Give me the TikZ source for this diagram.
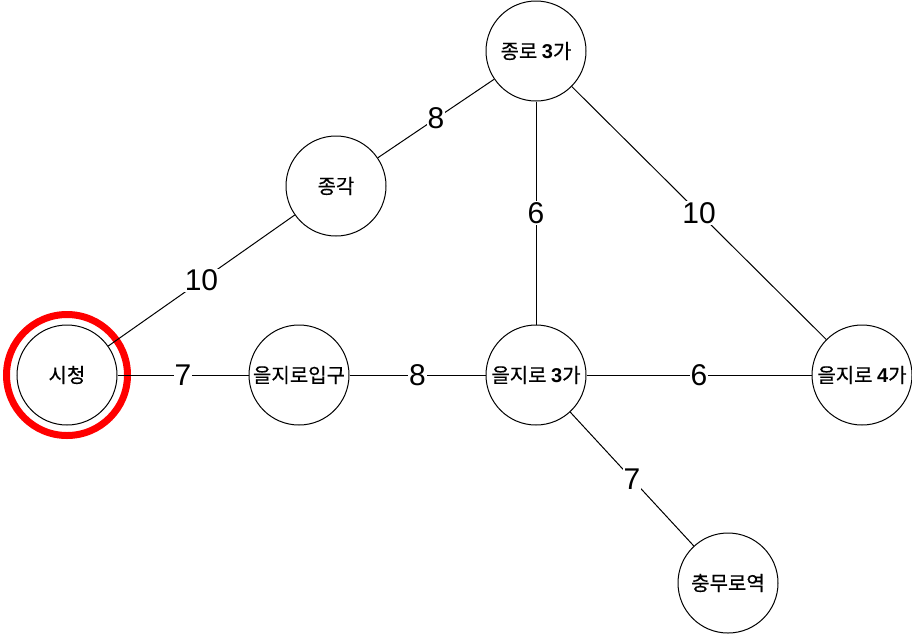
\documentclass[tikz,border=0pt]{standalone}
\usepackage{fontspec}
\setmainfont{Liberation Sans}
\newfontfamily\kr[FakeBold=0.4]{Noto Sans CJK KR}
\newcommand{\dg}[1]{{\fontspec{Liberation Sans}\bfseries #1}}
\begin{document}
\begin{tikzpicture}[x=1pt,y=-1pt,
  station/.style={draw=black, line width=1pt, circle, minimum size=100pt, inner sep=0pt, fill=white, font=\kr\fontsize{20}{20}\selectfont},
  lab/.style={fill=white, inner sep=1pt, font=\fontsize{30}{30}\selectfont},
  edge/.style={draw=black, line width=1pt}]
\useasboundingbox (0,0) rectangle (912,638);
\node[station] (jr3) at (536,51) {종로 \dg{3}가};
\node[station] (jg) at (336,186) {종각};
\node[station] (sc) at (67,375) {시청};
\node[station] (eji) at (299,375) {을지로입구};
\node[station] (ej3) at (536,375) {을지로 \dg{3}가};
\node[station] (ej4) at (862,375) {을지로 \dg{4}가};
\node[station] (cm) at (728,583) {충무로역};
\draw[red, line width=7pt] (sc.center) circle (60.5pt);
\draw[edge] (jg) -- node[lab]{8} (jr3);
\draw[edge] (sc) -- node[lab]{10} (jg);
\draw[edge] (jr3) -- node[lab]{6} (ej3);
\draw[edge] (jr3) -- node[lab]{10} (ej4);
\draw[edge] (sc) -- node[lab]{7} (eji);
\draw[edge] (eji) -- node[lab]{8} (ej3);
\draw[edge] (ej3) -- node[lab]{6} (ej4);
\draw[edge] (ej3) -- node[lab]{7} (cm);
\end{tikzpicture}
\end{document}
